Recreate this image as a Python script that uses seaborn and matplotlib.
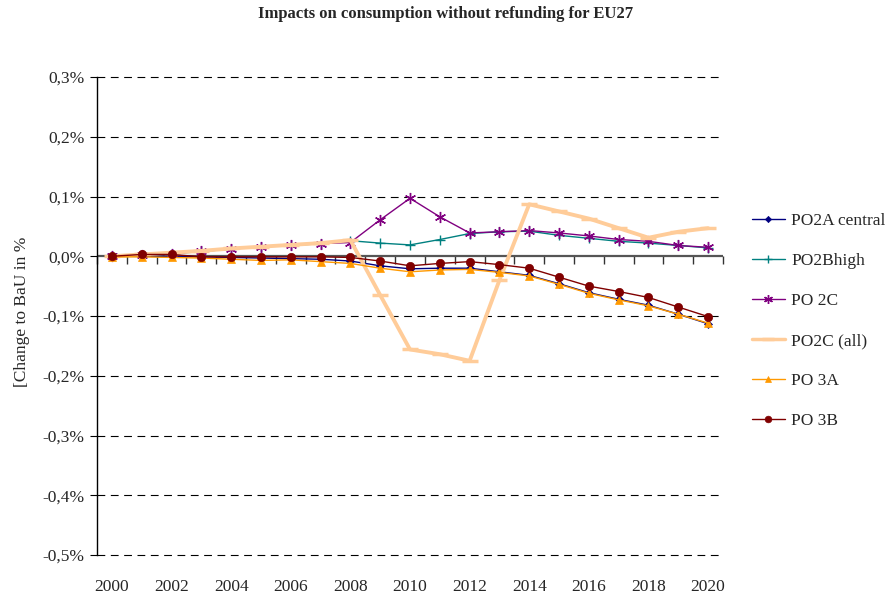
import matplotlib
matplotlib.use("Agg")
import matplotlib.pyplot as plt
import seaborn as sns
import pandas as pd
import numpy as np
from matplotlib.ticker import FuncFormatter

years = list(range(2000, 2021))

po2a_central = [0.000, 0.000, 0.000, -0.001, -0.002, -0.003, -0.004, -0.005, -0.008, -0.016, -0.021,
                -0.020, -0.020, -0.026, -0.032, -0.046, -0.061, -0.072, -0.082, -0.097, -0.113]
po2b_high = [0.000, 0.002, 0.004, 0.008, 0.012, 0.016, 0.018, 0.021, 0.026, 0.022, 0.019,
             0.028, 0.038, 0.041, 0.042, 0.035, 0.030, 0.025, 0.022, 0.018, 0.014]
po_2c = [0.000, 0.002, 0.004, 0.009, 0.012, 0.016, 0.019, 0.021, 0.023, 0.061, 0.097,
         0.066, 0.039, 0.041, 0.043, 0.039, 0.034, 0.028, 0.025, 0.018, 0.015]
po2c_all = [0.000, 0.003, 0.006, 0.009, 0.013, 0.016, 0.019, 0.022, 0.027, -0.065, -0.156,
            -0.164, -0.175, -0.040, 0.087, 0.075, 0.063, 0.047, 0.031, 0.041, 0.047]
po_3a = [-0.001, -0.001, -0.002, -0.003, -0.005, -0.007, -0.006, -0.009, -0.012, -0.020, -0.026,
         -0.023, -0.022, -0.027, -0.033, -0.047, -0.062, -0.073, -0.083, -0.097, -0.112]
po_3b = [0.000, 0.003, 0.003, -0.001, -0.001, -0.001, -0.001, -0.001, -0.002, -0.008, -0.016,
         -0.012, -0.009, -0.014, -0.020, -0.035, -0.050, -0.059, -0.069, -0.085, -0.101]

series_names = ["PO2A central", "PO2Bhigh", "PO 2C", "PO2C (all)", "PO 3A", "PO 3B"]
series_values = [po2a_central, po2b_high, po_2c, po2c_all, po_3a, po_3b]

title = "Impacts on consumption without refunding for EU27"
ylabel = "[Change to BaU in %"
yticks = [-0.5, -0.4, -0.3, -0.2, -0.1, 0.0, 0.1, 0.2, 0.3]
xticks = list(range(2000, 2021, 2))

styles = {
    "PO2A central": dict(color="#000080", marker="D", markersize=4, lw=1.0, mew=0.5),
    "PO2Bhigh": dict(color="#008080", marker="+", markersize=7, lw=1.0, mew=1.0),
    "PO 2C": dict(color="#800080", marker=(6, 2, 0), markersize=8, lw=1.0, mew=1.0),
    "PO2C (all)": dict(color="#FFCC99", marker="_", markersize=11, lw=2.8, mew=2.5),
    "PO 3A": dict(color="#FF9900", marker="^", markersize=6, lw=1.0, mew=0.5),
    "PO 3B": dict(color="#800000", marker="o", markersize=6, lw=1.0, mew=0.5),
}

sns.set_theme(style="white")
plt.rcParams["font.family"] = ["Liberation Serif", "DejaVu Serif"]

rows = []
for name, vals in zip(series_names, series_values):
    for y, v in zip(years, vals):
        rows.append({"year": y, "value": v, "series": name})
df = pd.DataFrame(rows)

fig = plt.figure(figsize=(8.92, 5.96), dpi=100)
ax = fig.add_axes([97 / 892, 1 - 555 / 596, (723 - 97) / 892, (555 - 77) / 596])

# grid lines
for yv in yticks:
    if yv != 0.0:
        ax.axhline(yv, color="black", lw=0.8, ls=(0, (7, 5)), zorder=0, clip_on=False)
ax.axhline(0.0, color="#555555", lw=1.6, zorder=1)

handles = []
for name in series_names:
    st = styles[name]
    sub = df[df["series"] == name]
    sns.lineplot(data=sub, x="year", y="value", ax=ax, color=st["color"], marker=st["marker"],
                 markersize=st["markersize"], linewidth=st["lw"], markeredgewidth=st["mew"],
                 markeredgecolor=st["color"], markerfacecolor=st["color"], legend=False,
                 errorbar=None, zorder=3)
    h, = ax.plot([], [], color=st["color"], marker=st["marker"], markersize=st["markersize"] * 0.8,
                 linewidth=st["lw"] if name != "PO2C (all)" else 2.5, markeredgewidth=st["mew"],
                 markeredgecolor=st["color"], markerfacecolor=st["color"])
    handles.append(h)

ax.set_xlim(1999.5, 2020.5)
ax.set_ylim(-0.5, 0.3)

for s in ["top", "right", "bottom"]:
    ax.spines[s].set_visible(False)
ax.spines["left"].set_color("black")
ax.spines["left"].set_linewidth(1.0)

ax.set_yticks(yticks)
ax.yaxis.set_major_formatter(FuncFormatter(lambda v, p: (f"{v:.1f}%").replace(".", ",")))
ax.tick_params(axis="y", which="major", direction="out", length=5, width=0.8, color="black",
               left=True, labelsize=12.5, pad=4)
ax.set_xticks(xticks)
ax.set_xticklabels([str(x) for x in xticks])
ax.tick_params(axis="x", which="major", length=0, labelsize=12.5, pad=17, bottom=True)

# tick marks on the zero line between categories
sec = ax.secondary_xaxis(0.625)
for s in sec.spines.values():
    s.set_visible(False)
sec.set_xticks([y + 0.5 for y in [1999] + years])
sec.set_xticklabels([])
sec.tick_params(axis="x", direction="in", length=6, width=1.0, color="#333333")

ax.set_xlabel("")
ax.set_ylabel("")
fig.text(22 / 892, 1 - 312 / 596, ylabel, rotation=90, va="center", ha="center", fontsize=12.5)
fig.text(0.5, 1 - 14 / 596, title, ha="center", va="center", fontsize=12, fontweight="bold")

fig.legend(handles, series_names, loc="center left", bbox_to_anchor=(752 / 892, 1 - 321 / 596),
           frameon=False, fontsize=12.5, labelspacing=1.38, handlelength=1.9, handletextpad=0.35,
           borderpad=0, borderaxespad=0)

fig.savefig("out.png", dpi=100, facecolor="white")
